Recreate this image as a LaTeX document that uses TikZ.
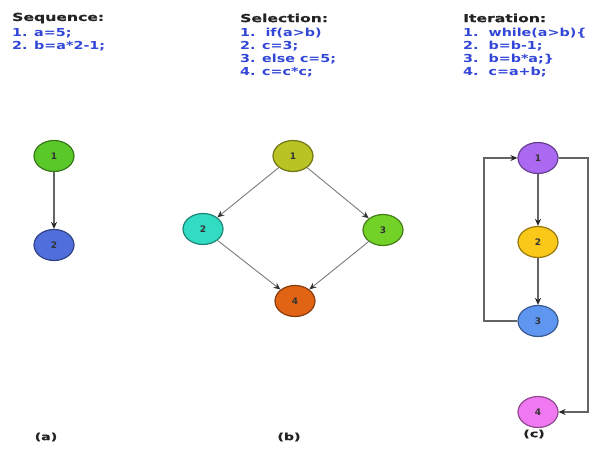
\documentclass[tikz,border=0pt]{standalone}
\usepackage{fontspec}
\setmainfont{DejaVu Sans}
\newfontfamily\codefont[FakeStretch=1.3]{DejaVu Sans}
\newfontfamily\headfont[FakeStretch=1.42,FakeBold=0.8]{DejaVu Sans}
\usetikzlibrary{shapes.geometric,arrows.meta}
\definecolor{codeblue}{RGB}{50,70,215}
\definecolor{titlegray}{RGB}{35,35,35}
\definecolor{edgegray}{RGB}{100,100,100}
\tikzset{
  title/.style={anchor=west,inner sep=0pt,font=\headfont\bfseries\fontsize{11}{13}\selectfont,text=titlegray},
  codeline/.style={anchor=west,inner sep=0pt,font=\codefont\bfseries\fontsize{11}{13}\selectfont,text=codeblue},
  caption/.style={inner sep=0pt,font=\headfont\bfseries\fontsize{10}{12}\selectfont,text=titlegray},
  vertex/.style={ellipse,draw=#1!60!black,fill=#1,line width=1.2pt,minimum width=40pt,minimum height=31pt,inner sep=0pt,font=\bfseries\fontsize{9}{10}\selectfont,text=black!80},
  flow/.style={draw=edgegray,line width=1.5pt,-{Stealth[length=7pt,width=6pt,color=black!85]}},
  thinflow/.style={draw=edgegray!85,line width=0.9pt,-{Stealth[length=7pt,width=6pt,color=black!80]}}
}
\definecolor{cGreen}{RGB}{90,200,40}
\definecolor{cBlue}{RGB}{80,110,220}
\definecolor{cOlive}{RGB}{185,195,35}
\definecolor{cTeal}{RGB}{50,220,195}
\definecolor{cLime}{RGB}{115,210,40}
\definecolor{cOrange}{RGB}{225,100,20}
\definecolor{cPurple}{RGB}{170,105,240}
\definecolor{cYellow}{RGB}{250,200,25}
\definecolor{cSky}{RGB}{95,150,240}
\definecolor{cPink}{RGB}{240,120,240}
\begin{document}
\begin{tikzpicture}[x=1pt,y=-1pt]
\useasboundingbox (0,0) rectangle (598,450);

% Sequence
\node[title] (seqT) at (12,18) {Sequence:};
\node[codeline] (seq1) at (12,33) {1. a=5;};
\node[codeline] (seq2) at (12,46) {2. b=a*2-1;};
\node[vertex=cGreen] (s1) at (54,156) {1};
\node[vertex=cBlue] (s2) at (54,245) {2};
\draw[flow] (s1) -- (s2);
\node[caption] (capA) at (46,437) {(a)};

% Selection
\node[title] (selT) at (240,18) {Selection:};
\node[codeline] (sel1) at (240,33) {1.\ \ if(a>b)};
\node[codeline] (sel2) at (240,46) {2. c=3;};
\node[codeline] (sel3) at (240,59) {3. else c=5;};
\node[codeline] (sel4) at (240,72) {4. c=c*c;};
\node[vertex=cOlive] (b1) at (293,156) {1};
\node[vertex=cTeal] (b2) at (203,229) {2};
\node[vertex=cLime] (b3) at (383,230) {3};
\node[vertex=cOrange] (b4) at (295,301) {4};
\draw[thinflow] (b1) -- (b2);
\draw[thinflow] (b1) -- (b3);
\draw[thinflow] (b2) -- (b4);
\draw[thinflow] (b3) -- (b4);
\node[caption] (capB) at (289,437) {(b)};

% Iteration
\node[title] (itT) at (463,18) {Iteration:};
\node[codeline] (it1) at (463,33) {1.\ \ while(a>b)\{};
\node[codeline] (it2) at (463,46) {2.\ \ b=b-1;};
\node[codeline] (it3) at (463,59) {3.\ \ b=b*a;\}};
\node[codeline] (it4) at (463,72) {4.\ \ c=a+b;};
\node[vertex=cPurple] (i1) at (538,158) {1};
\node[vertex=cYellow] (i2) at (538,242) {2};
\node[vertex=cSky] (i3) at (538,321) {3};
\node[vertex=cPink] (i4) at (538,412) {4};
\draw[flow] (i1) -- (i2);
\draw[flow] (i2) -- (i3);
\coordinate (loopL) at (484,158);
\coordinate (exitR) at (588,412);
\draw[flow] (i3.west) -| (loopL) -- (i1.west);
\draw[flow] (i1.east) -| (exitR) -- (i4.east);
\node[caption] (capC) at (534,434) {(c)};
\end{tikzpicture}
\end{document}
